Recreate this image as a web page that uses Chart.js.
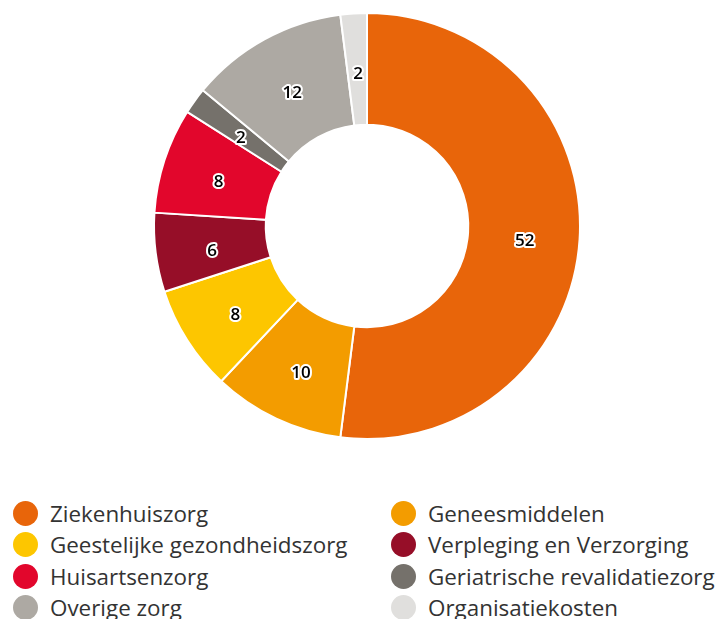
<!DOCTYPE html>
<html>
<head>
<meta charset="utf-8">
<script src="https://cdn.jsdelivr.net/npm/chart.js@4.4.1/dist/chart.umd.min.js"></script>
<style>
  html, body { margin: 0; padding: 0; background: #ffffff; }
  body { width: 718px; height: 619px; overflow: hidden; position: relative; font-family: "Open Sans", sans-serif; }
  #wrap { position: absolute; left: 0; top: 0; width: 718px; height: 452px; }
  #legend { position: absolute; left: 0; top: 497px; width: 718px; }
  .item { position: absolute; height: 32px; display: flex; align-items: center; font-size: 22.4px; color: #333333; white-space: nowrap; }
  .dot { width: 25px; height: 25px; border-radius: 50%; margin-right: 12px; flex: none; }
</style>
</head>
<body>
<div id="wrap"><canvas id="c"></canvas></div>
<div id="legend"></div>
<script>
const categories = [
  "Ziekenhuiszorg",
  "Geneesmiddelen",
  "Geestelijke gezondheidszorg",
  "Verpleging en Verzorging",
  "Huisartsenzorg",
  "Geriatrische revalidatiezorg",
  "Overige zorg",
  "Organisatiekosten"
];
const values = [52, 10, 8, 6, 8, 2, 12, 2];
const colors = ["#E8650A", "#F39C00", "#FDC600", "#960E28", "#E2062C", "#75716B", "#ADA9A3", "#E0DFDD"];

const labelPlugin = {
  id: "sliceLabels",
  afterDatasetsDraw(chart) {
    const ctx = chart.ctx;
    const meta = chart.getDatasetMeta(0);
    ctx.save();
    ctx.font = "600 17px 'Open Sans', sans-serif";
    ctx.textAlign = "center";
    ctx.textBaseline = "middle";
    ctx.lineJoin = "round";
    meta.data.forEach((arc, i) => {
      const p = arc.tooltipPosition();
      const t = String(chart.data.datasets[0].data[i]);
      const x = p.x + 1, y = p.y + 5;
      ctx.lineWidth = 4;
      ctx.strokeStyle = "#ffffff";
      ctx.strokeText(t, x, y);
      ctx.fillStyle = "#000000";
      ctx.fillText(t, x, y);
    });
    ctx.restore();
  }
};

new Chart(document.getElementById("c"), {
  type: "doughnut",
  data: {
    labels: categories,
    datasets: [{
      data: values,
      backgroundColor: colors,
      borderColor: "#ffffff",
      borderWidth: 2,
      radius: 213,
      cutout: 107
    }]
  },
  options: {
    responsive: true,
    maintainAspectRatio: false,
    animation: false,
    layout: { padding: { left: 16, right: 0, top: 0, bottom: 0 } },
    plugins: { legend: { display: false }, tooltip: { enabled: false } }
  },
  plugins: [labelPlugin]
});

const legend = document.getElementById("legend");
categories.forEach((name, i) => {
  const col = i % 2, row = Math.floor(i / 2);
  const d = document.createElement("div");
  d.className = "item";
  d.style.left = (col === 0 ? 13 : 391) + "px";
  d.style.top = (row * 31.5) + "px";
  const dot = document.createElement("span");
  dot.className = "dot";
  dot.style.background = colors[i];
  const txt = document.createElement("span");
  txt.textContent = name;
  d.appendChild(dot);
  d.appendChild(txt);
  legend.appendChild(d);
});
</script>
</body>
</html>
